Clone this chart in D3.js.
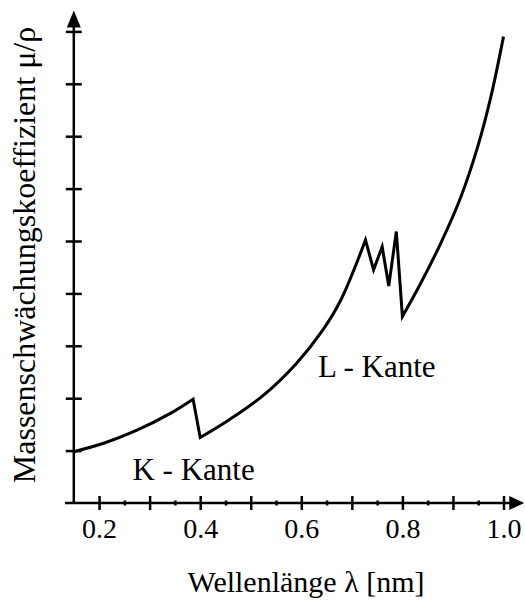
<!DOCTYPE html>
<html>
<head>
    <meta charset="utf-8">
    <title>Massenschwächungskoeffizient</title>
    <script src="https://cdn.jsdelivr.net/npm/d3@7/dist/d3.min.js"></script>
    <style>
        body { margin: 0; background: #fff; }
    </style>
</head>
<body>
<script>
    // curve: wavelength (nm) and mu/rho in tick units
    var lambda = [0.15, 0.209, 0.275, 0.341, 0.386, 0.400, 0.456, 0.523, 0.589, 0.641, 0.678, 0.727,
        0.743, 0.760, 0.773, 0.788, 0.800, 0.836, 0.876, 0.916, 0.949, 0.975, 1.0];
    var mu = [0.98, 1.14, 1.39, 1.71, 1.98, 1.25, 1.58, 2.04, 2.65, 3.28, 3.87, 5.02,
        4.45, 4.89, 4.14, 5.18, 3.56, 4.19, 4.96, 5.85, 6.80, 7.75, 8.90];
    // which piece of the curve each point belongs to (edges join pieces with straight jumps)
    var branch = [0, 0, 0, 0, 0, 1, 1, 1, 1, 1, 1, 1, 2, 2, 2, 2, 3, 3, 3, 3, 3, 3, 3];

    var xMajor = [0.2, 0.3, 0.4, 0.5, 0.6, 0.7, 0.8, 0.9, 1.0];
    var xLabels = [0.2, 0.4, 0.6, 0.8, 1.0];
    var xMinor = [0.25, 0.35, 0.45, 0.55, 0.65, 0.75, 0.85, 0.95];
    var yTicks = [1, 2, 3, 4, 5, 6, 7, 8, 9];

    var edgeLabels = [
        { text: "K - Kante", lambda: 0.266, mu: 0.44 },
        { text: "L - Kante", lambda: 0.633, mu: 2.4 }
    ];

    var serif = "'Liberation Serif', 'Times New Roman', Tinos, Times, 'DejaVu Serif', 'Noto Serif', FreeSerif, serif";

    var width = 525,
        height = 600;

    var svg = d3.select("body").append("svg")
        .attr("width", width)
        .attr("height", height);

    var x = d3.scaleLinear().domain([0.15, 1.0]).range([73.8, 503.5]);
    var y = d3.scaleLinear().domain([0, 9]).range([503, 31.4]);

    /* AXES */

    var gx = svg.append("g")
        .attr("transform", "translate(0," + y(0) + ")")
        .call(d3.axisBottom(x).tickValues(xMajor).tickSize(7)
            .tickFormat(function (d) { return xLabels.indexOf(d) >= 0 ? d3.format(".1f")(d) : ""; }));
    gx.attr("font-family", serif);
    gx.select(".domain").remove();
    gx.selectAll(".tick line").attr("y1", -7).attr("stroke-width", 2.5);
    gx.selectAll(".tick text")
        .attr("y", 35).attr("dy", null)
        .attr("fill", "#000")
        .style("font-size", "28px")
        .style("font-family", serif);

    var gm = svg.append("g")
        .attr("transform", "translate(0," + y(0) + ")")
        .call(d3.axisBottom(x).tickValues(xMinor).tickSize(2.5).tickFormat(""));
    gm.select(".domain").remove();
    gm.selectAll(".tick line").attr("y1", -2.5).attr("stroke-width", 2.5);

    var gy = svg.append("g")
        .attr("transform", "translate(" + x(0.15) + ",0)")
        .call(d3.axisLeft(y).tickValues(yTicks).tickSize(8).tickFormat(""));
    gy.select(".domain").remove();
    gy.selectAll(".tick line").attr("x1", 8).attr("stroke-width", 2.5);

    // axis lines with arrow heads
    svg.append("line")
        .attr("x1", 65).attr("x2", x(1.03))
        .attr("y1", y(0)).attr("y2", y(0))
        .attr("stroke", "#000").attr("stroke-width", 2.5);
    svg.append("line")
        .attr("x1", x(0.15)).attr("x2", x(0.15))
        .attr("y1", y(0)).attr("y2", y(9.3))
        .attr("stroke", "#000").attr("stroke-width", 2.5);

    var xTip = x(1.041), yTip = y(9.4);
    svg.append("path")
        .attr("d", "M" + xTip + "," + y(0) + "L" + (xTip - 15) + "," + (y(0) - 7) + "L" + (xTip - 15) + "," + (y(0) + 7) + "Z")
        .attr("fill", "#000");
    svg.append("path")
        .attr("d", "M" + x(0.15) + "," + yTip + "L" + (x(0.15) - 7) + "," + (yTip + 17) + "L" + (x(0.15) + 7) + "," + (yTip + 17) + "Z")
        .attr("fill", "#000");

    /* CURVE */

    var pts = lambda.map(function (d, i) { return { lambda: d, mu: mu[i], branch: branch[i] }; });
    var pieces = d3.groups(pts, function (d) { return d.branch; });

    var smooth = d3.line()
        .x(function (d) { return x(d.lambda); })
        .y(function (d) { return y(d.mu); })
        .curve(d3.curveCatmullRom);
    var straight = d3.line()
        .x(function (d) { return x(d.lambda); })
        .y(function (d) { return y(d.mu); });

    var pathStr = pieces.map(function (p, i) {
        var s = (p[0] == 2 ? straight : smooth)(p[1]);
        return i == 0 ? s : s.replace(/^M/, "L");
    }).join("");

    svg.append("path")
        .attr("d", pathStr)
        .attr("fill", "none")
        .attr("stroke", "#000")
        .attr("stroke-width", 3)
        .attr("stroke-linejoin", "miter");

    /* LABELS */

    svg.selectAll(".edge")
        .data(edgeLabels)
        .enter().append("text")
        .attr("class", "edge")
        .attr("x", function (d) { return x(d.lambda); })
        .attr("y", function (d) { return y(d.mu); })
        .style("font-family", serif)
        .style("font-size", "31px")
        .text(function (d) { return d.text; });

    svg.append("text")
        .attr("x", 306)
        .attr("y", 592)
        .attr("text-anchor", "middle")
        .style("font-family", serif)
        .style("font-size", "30px")
        .text("Wellenlänge λ [nm]");

    svg.append("text")
        .attr("transform", "translate(35,255) rotate(-90)")
        .attr("text-anchor", "middle")
        .style("font-family", serif)
        .style("font-size", "32px")
        .text("Massenschwächungskoeffizient μ/ρ");
</script>
</body>
</html>
